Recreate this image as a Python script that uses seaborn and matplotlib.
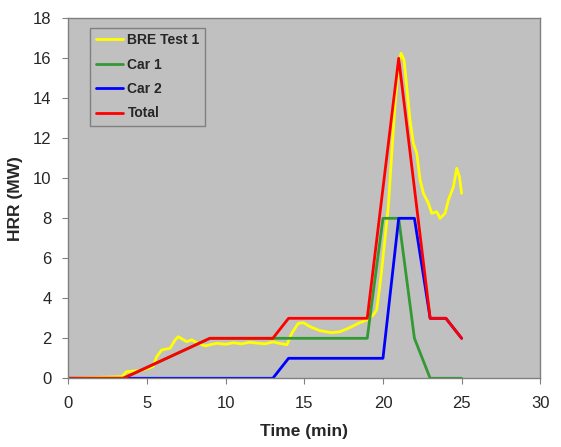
import numpy as np
import pandas as pd
import matplotlib
matplotlib.use("Agg")
import matplotlib.pyplot as plt
import seaborn as sns

bre_t = [0, 3.39, 3.71, 4.11, 4.56, 5.07, 5.38, 5.62, 5.94, 6.47, 6.79, 6.99,
         7.53, 7.84, 8.26, 8.69, 9.43, 10.0, 10.5, 11.0, 11.5, 12.0, 12.5,
         13.0, 13.4, 13.9, 14.2, 14.62, 14.94, 15.37, 16.0, 16.75, 17.27,
         17.8, 18.44, 18.97, 19.39, 19.6, 19.77, 19.92, 20.34, 20.45, 20.56,
         20.77, 20.98, 21.15, 21.34, 21.51, 21.72, 21.93, 22.15, 22.36, 22.57,
         22.89, 23.1, 23.42, 23.63, 23.95, 24.16, 24.48, 24.69, 24.86, 25.0]
bre_hrr = [0, 0.08, 0.33, 0.36, 0.38, 0.5, 0.58, 1.08, 1.42, 1.5, 1.92, 2.08,
           1.83, 1.92, 1.75, 1.62, 1.75, 1.7, 1.78, 1.72, 1.8, 1.76, 1.72,
           1.82, 1.75, 1.68, 2.25, 2.75, 2.78, 2.58, 2.38, 2.28, 2.33,
           2.5, 2.75, 2.92, 3.17, 3.42, 4.42, 5.42, 8.58, 9.92, 11.25,
           13.75, 15.58, 16.25, 15.92, 14.58, 12.92, 11.75, 11.25, 9.92, 9.25,
           8.75, 8.25, 8.33, 8.0, 8.25, 8.92, 9.58, 10.5, 10.08, 9.25]

# design fire curves
car1_t = [0, 3.5, 9, 19, 20, 21, 22, 23, 25]
car1_hrr = [0, 0, 2, 2, 8, 8, 2, 0, 0]

car2_t = [0, 13, 14, 20, 21, 22, 23, 24, 25]
car2_hrr = [0, 0, 1, 1, 8, 8, 3, 3, 2]

total_t = [0, 3.5, 9, 13, 14, 19, 21, 23, 24, 25]
total_hrr = [0, 0, 2, 2, 3, 3, 16, 3, 3, 2]

series = [
    ("BRE Test 1", bre_t, bre_hrr, "#FFFF00"),
    ("Car 1", car1_t, car1_hrr, "#339933"),
    ("Car 2", car2_t, car2_hrr, "#0000FF"),
    ("Total", total_t, total_hrr, "#FF0000"),
]

sns.set_style("white", {"axes.facecolor": "#C0C0C0", "axes.edgecolor": "#808080"})
plt.rcParams["font.family"] = ["Liberation Sans", "DejaVu Sans"]

fig = plt.figure(figsize=(5.61, 4.47), dpi=100)
ax = fig.add_axes([0.1217, 0.1537, 0.8414, 0.8053])

for name, t, v, col in series:
    df = pd.DataFrame({"t": t, "hrr": v})
    sns.lineplot(data=df, x="t", y="hrr", ax=ax, color=col, linewidth=2.0,
                 label=name, sort=False, estimator=None)

ax.set_xlim(0, 30)
ax.set_ylim(0, 18)
ax.set_xticks(np.arange(0, 31, 5))
ax.set_yticks(np.arange(0, 19, 2))
ax.tick_params(axis="both", direction="out", length=4, width=0.8,
               color="#808080", labelsize=12, left=True, bottom=True)
ax.tick_params(axis="x", pad=9)
ax.tick_params(axis="y", pad=8)
for s in ax.spines.values():
    s.set_color("#808080")
    s.set_linewidth(1.0)

ax.set_xlabel("Time (min)", fontsize=12.5, fontweight="bold", labelpad=9)
ax.set_ylabel("HRR (MW)", fontsize=12.5, fontweight="bold", labelpad=7)

leg = ax.legend(loc="upper left", bbox_to_anchor=(0.046, 0.974), frameon=True,
                fancybox=False, framealpha=1, facecolor="#C0C0C0",
                edgecolor="#808080", prop={"weight": "bold", "size": 10},
                handlelength=2.0, handletextpad=0.3, labelspacing=0.75,
                borderpad=0.4, borderaxespad=0)
leg.get_frame().set_linewidth(1.0)

fig.savefig("out.png", dpi=100)
